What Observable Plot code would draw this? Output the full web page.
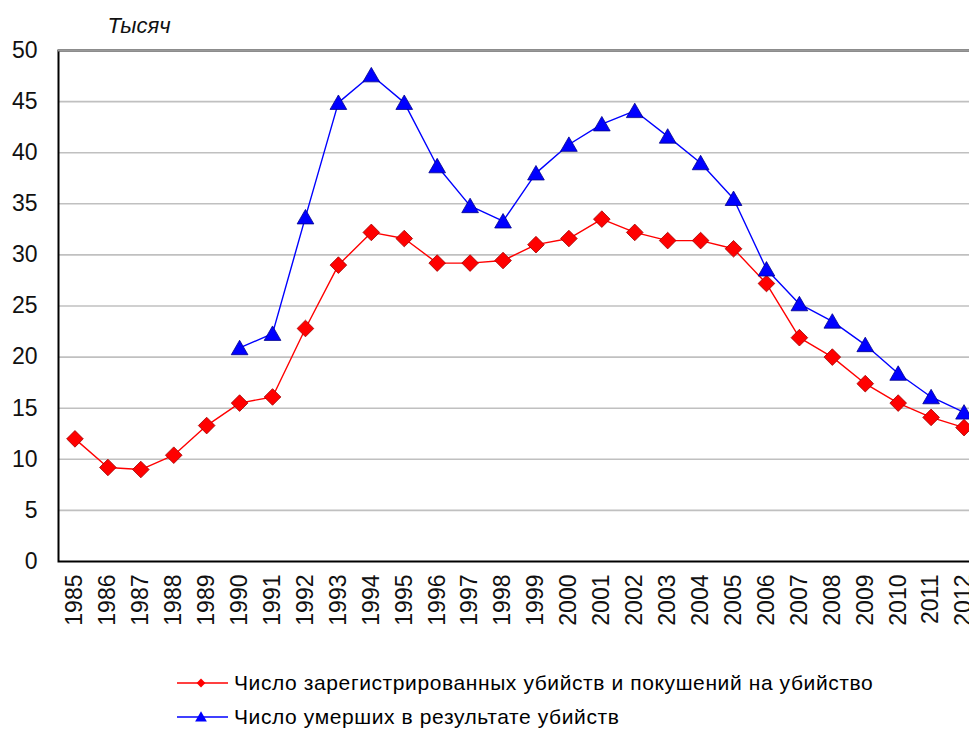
<!DOCTYPE html>
<html><head><meta charset="utf-8">
<script src="https://cdn.jsdelivr.net/npm/d3@7"></script>
<script src="https://cdn.jsdelivr.net/npm/@observablehq/plot@0.6"></script>
<style>
html,body{margin:0;padding:0;background:#fff;overflow:hidden;width:969px;height:729px}
#chart{position:absolute;left:0;top:0}
#chart svg{max-width:none !important;display:block}
.leg{position:absolute;left:177px;height:24px;font-family:"Liberation Sans",Arial,sans-serif;font-size:21px;letter-spacing:0.6px;color:#000;display:flex;align-items:center;white-space:nowrap}
.leg svg{margin-right:6px;display:block}
</style></head><body>
<div id="chart"></div>
<div id="leg1" class="leg" style="top:671px"></div>
<div id="leg2" class="leg" style="top:705px"></div>
<script>
const years = [1985,1986,1987,1988,1989,1990,1991,1992,1993,1994,1995,1996,1997,1998,1999,2000,2001,2002,2003,2004,2005,2006,2007,2008,2009,2010,2011,2012];
const registered = [12.0,9.2,9.0,10.4,13.3,15.5,16.1,22.8,29.0,32.2,31.6,29.2,29.2,29.45,31.0,31.6,33.5,32.2,31.4,31.4,30.6,27.2,21.9,20.0,17.4,15.5,14.1,13.1];
const victims = [null,null,null,null,null,20.9,22.3,33.7,44.9,47.6,44.9,38.7,34.8,33.3,38.0,40.8,42.8,44.1,41.6,39.0,35.5,28.6,25.2,23.5,21.2,18.4,16.1,14.6];
const yTicks = [0,5,10,15,20,25,30,35,40,45,50];
const seriesNames = ["Число зарегистрированных убийств и покушений на убийство","Число умерших в результате убийств"];
const seriesColors = ["#ff0000","#0000ff"];
const yUnit = "Тысяч";

const data = years.map((y,i)=>({year:y, registered:registered[i], victims:victims[i]}));

const plot = Plot.plot({
  width: 985, height: 645,
  marginLeft: 58, marginRight: 5, marginTop: 50, marginBottom: 84,
  style: {fontFamily: "'Liberation Sans', Arial, sans-serif", background: "transparent", color: "#111", overflow: "visible"},
  x: {type: "band", domain: years, padding: 0, round: false, label: null},
  y: {domain: [0, 50], label: null},
  marks: [
    Plot.ruleY(yTicks.slice(1, -1), {stroke: "#c0c0c0", strokeWidth: 1.6}),
    Plot.frame({stroke: "#000", strokeWidth: 2}),
    Plot.ruleY([50], {stroke: "#999", strokeWidth: 2}),
    Plot.axisY({ticks: yTicks, tickSize: 0, tickPadding: 21, fontSize: 23, label: null, tickFormat: d => String(d)}),
    Plot.axisX({tickRotate: -90, tickSize: 0, tickPadding: 13, fontSize: 23, label: null, tickFormat: d => String(d)}),
    Plot.line(data, {x: "year", y: "registered", stroke: seriesColors[0], strokeWidth: 1.4}),
    Plot.line(data, {x: "year", y: "victims", stroke: seriesColors[1], strokeWidth: 1.4}),
    Plot.dot(data, {x: "year", y: "registered", symbol: "diamond2", r: 7.5, fill: seriesColors[0], stroke: "#a00000", strokeWidth: 0.8}),
    Plot.dot(data, {x: "year", y: "victims", symbol: "triangle", r: 6.2, fill: seriesColors[1], stroke: "#00008b", strokeWidth: 0.8, dy: 2}),
    Plot.text([yUnit], {text: d => d, frameAnchor: "top-left", dx: 49, dy: -25, textAnchor: "start", lineAnchor: "middle", fontStyle: "italic", fontSize: 22})
  ]
});
document.getElementById("chart").appendChild(plot);

function swatch(color, kind) {
  const s = d3.create("svg").attr("width", 51).attr("height", 20);
  s.append("line").attr("x1", 0).attr("x2", 51).attr("y1", 10).attr("y2", 10).attr("stroke", color).attr("stroke-width", 1.6);
  const sym = kind === "diamond" ? d3.symbol(d3.symbolDiamond2, 50) : d3.symbol(d3.symbolTriangle, 60);
  s.append("path").attr("d", sym()).attr("transform", `translate(24,${kind === "diamond" ? 10 : 11})`).attr("fill", color);
  return s.node();
}
[["leg1", "diamond"], ["leg2", "triangle"]].forEach(([id, kind], i) => {
  const el = document.getElementById(id);
  el.appendChild(swatch(seriesColors[i], kind));
  const t = document.createElement("span");
  t.textContent = seriesNames[i];
  el.appendChild(t);
});
</script>
</body></html>
